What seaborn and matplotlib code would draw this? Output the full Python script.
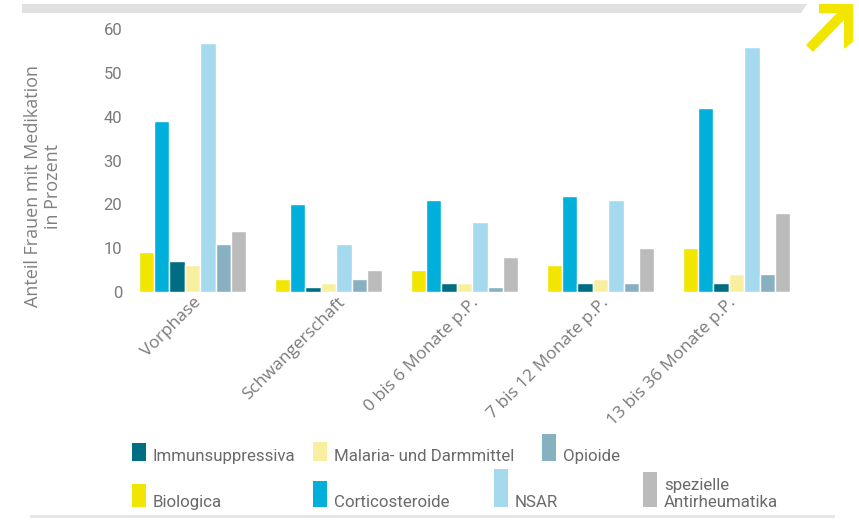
import matplotlib
matplotlib.use("Agg")
import matplotlib.pyplot as plt
import matplotlib.transforms as mtransforms
from matplotlib.patches import Rectangle, Polygon
import seaborn as sns
import pandas as pd

# ---- data ----
phases = ["Vorphase", "Schwangerschaft", "0 bis 6 Monate p.P.",
          "7 bis 12 Monate p.P.", "13 bis 36 Monate p.P."]
medications = ["Biologica", "Corticosteroide", "Immunsuppressiva",
               "Malaria- und Darmmittel", "NSAR", "Opioide",
               "spezielle Antirheumatika"]
biologica = [9, 3, 5, 6, 10]
corticosteroide = [39, 20, 21, 22, 42]
immunsuppressiva = [7, 1, 2, 2, 2]
malaria_darm = [6, 2, 2, 3, 4]
nsar = [57, 11, 16, 21, 56]
opioide = [11, 3, 1, 2, 4]
spezielle = [14, 5, 8, 10, 18]
yticks = [0, 10, 20, 30, 40, 50, 60]

colors = ["#F2E500", "#00B0DA", "#006E82", "#F8F0A0", "#A5DAEE", "#87B0C1", "#BBBBBB"]

series = [biologica, corticosteroide, immunsuppressiva, malaria_darm, nsar, opioide, spezielle]
rows = []
for med, vals in zip(medications, series):
    for ph, v in zip(phases, vals):
        rows.append({"Phase": ph, "Medikation": med, "Wert": v})
df = pd.DataFrame(rows)

sns.set_style("white")
plt.rcParams["font.family"] = ["Open Sans", "DejaVu Sans"]

W, H = 859, 520
fig = plt.figure(figsize=(W / 100, H / 100), dpi=100)

def fx(x):
    return x / W

def fy(y):
    return 1 - y / H

ax_left, ax_right = 124.5, 804.5
ax_bottom, ax_top = 291.7, 29.5
ax = fig.add_axes([fx(ax_left), fy(ax_bottom), (ax_right - ax_left) / W, (ax_bottom - ax_top) / H])

sns.barplot(data=df, x="Phase", y="Wert", hue="Medikation", order=phases,
            hue_order=medications, palette=colors, saturation=1, width=0.79,
            edgecolor="white", linewidth=1.0, legend=False, ax=ax)

ax.set_ylim(0, 60)
ax.set_xlim(-0.5, 4.5)
for s in ax.spines.values():
    s.set_visible(False)
ax.set_xlabel("")
ax.set_ylabel("")
ax.set_yticks(yticks)
ax.set_yticklabels([str(t) for t in yticks], fontfamily="Roboto", fontsize=12, color="#7a7a7a")
ax.tick_params(axis="y", length=0, pad=1.5)
ax.tick_params(axis="x", length=0, pad=6)
ax.set_xticks(range(len(phases)))
ax.set_xticklabels(phases, rotation=45, ha="right", va="center", rotation_mode="anchor",
                   fontsize=12.5, color="#7a7a7a")
label_shift_px = [6, 14, 12, 6, -3]
for lbl, dx in zip(ax.get_xticklabels(), label_shift_px):
    off = mtransforms.ScaledTranslation(dx / 100, 0, fig.dpi_scale_trans)
    lbl.set_transform(lbl.get_transform() + off)
ax.grid(False)

# y label
fig.text(fx(43), fy(186), "Anteil Frauen mit Medikation\nin Prozent", rotation=90,
         ha="center", va="center", multialignment="center", fontsize=13,
         color="#808080", linespacing=1.15)

# ---- legend (manual layout) ----
leg_items = [
    ("Immunsuppressiva", 2, 132, 461, 18),
    ("Malaria- und Darmmittel", 3, 313, 461, 19),
    ("Opioide", 5, 542, 461, 27),
    ("Biologica", 0, 132, 507, 23),
    ("Corticosteroide", 1, 313, 507, 26),
    ("NSAR", 4, 494, 507, 38),
    ("spezielle\nAntirheumatika", 6, 643, 507, 35),
]
for label, ci, x, yb, h in leg_items:
    fig.add_artist(Rectangle((fx(x), fy(yb)), 14 / W, h / H, transform=fig.transFigure,
                             facecolor=colors[ci], edgecolor="none"))
    lines = label.split("\n")
    for k, line in enumerate(reversed(lines)):
        fig.text(fx(x + 21), fy(yb - 17 * k), line, ha="left", va="baseline",
                 fontfamily="Roboto", fontsize=12.2, color="#6a6a6a")

# ---- decoration: top bar, arrow, bottom line ----
fig.add_artist(Polygon([(fx(22), fy(4)), (fx(807), fy(4)), (fx(801), fy(13)), (fx(22), fy(13))],
                       closed=True, transform=fig.transFigure, facecolor="#E0E0E0", edgecolor="none"))
arrow_pts = [(819, 4), (853, 4), (853, 42), (844, 49), (844, 20), (813, 52), (806, 45), (837, 13), (819, 13)]
fig.add_artist(Polygon([(fx(a), fy(b)) for a, b in arrow_pts], closed=True,
                       transform=fig.transFigure, facecolor="#F2E500", edgecolor="none"))
fig.add_artist(Rectangle((fx(30), fy(518)), 805 / W, 3 / H, transform=fig.transFigure,
                         facecolor="#E6E6E6", edgecolor="none"))

fig.savefig("out.png", dpi=100)
